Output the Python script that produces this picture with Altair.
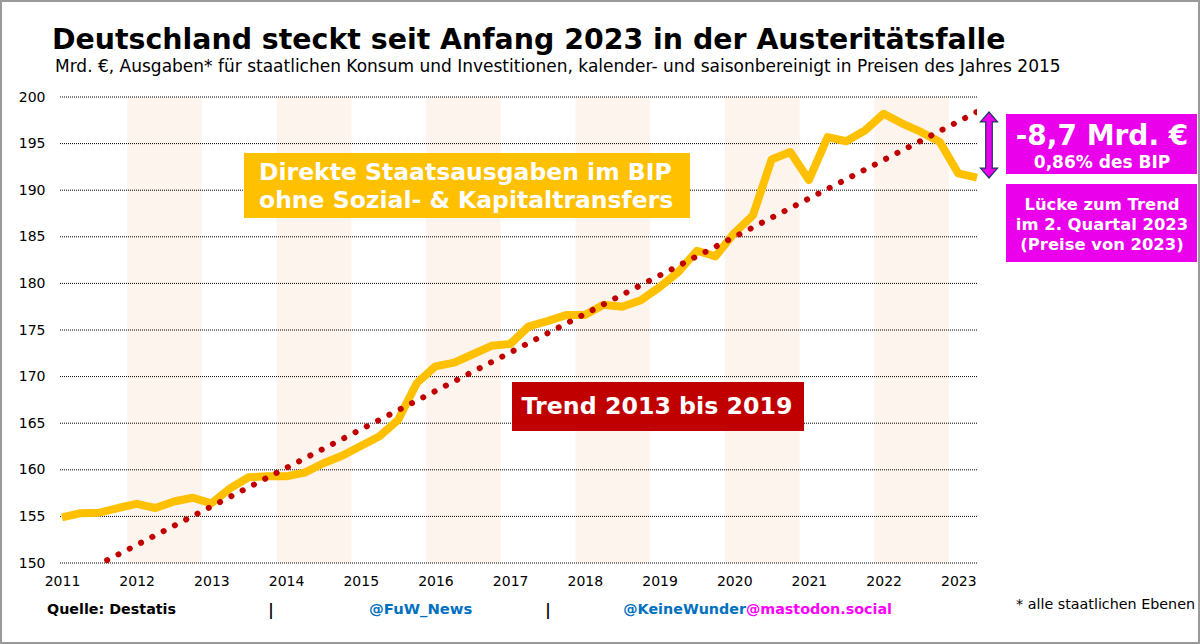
import altair as alt
import pandas as pd

# ---------------- data ----------------
quarters = [f"{y}-Q{q}" for y in range(2011, 2024) for q in range(1, 5)][:50]
staatsausgaben = [
    154.9, 155.35, 155.4, 155.9, 156.35, 155.9, 156.6, 157.0,
    156.4, 158.0, 159.2, 159.3, 159.3, 159.7, 160.7, 161.5,
    162.55, 163.6, 165.35, 169.3, 171.1, 171.5, 172.4, 173.3,
    173.5, 175.4, 175.95, 176.6, 176.6, 177.7, 177.5, 178.2,
    179.6, 181.2, 183.5, 182.9, 185.4, 187.3, 193.3, 194.1,
    191.1, 195.7, 195.25, 196.4, 198.2, 197.15, 196.25, 195.2,
    191.8, 191.35,
]
trend_quarters = ["2011-Q1", "2023-Q2"]
trend_values = [147.8, 198.4]
band_years = [2012, 2014, 2016, 2018, 2020, 2022]
y_ticks = [150, 155, 160, 165, 170, 175, 180, 185, 190, 195, 200]
x_ticks = list(range(2011, 2024))


def qpos(label):
    y, q = label.split("-Q")
    return int(y) + (int(q) - 1) / 4


df = pd.DataFrame({"quarter": quarters, "value": staatsausgaben})
df["t"] = df["quarter"].map(qpos)
trend = pd.DataFrame({"quarter": trend_quarters, "value": trend_values})
trend["t"] = trend["quarter"].map(qpos)
bands = pd.DataFrame({"year": band_years})
bands["start"] = bands["year"] - 0.125
bands["end"] = bands["year"] + 0.875
grid = pd.DataFrame({"v": y_ticks})

W, H = 918, 466
FONT = "DejaVu Sans"
xscale = alt.Scale(domain=[2010.96, 2023.25], nice=False, zero=False)
yscale = alt.Scale(domain=[150, 200], nice=False, zero=False)

one = alt.Data(values=[{"a": 0}])


def txt(s, x, y, size, color="black", weight="normal", align="left",
        baseline="alphabetic"):
    return alt.Chart(one).mark_text(
        text=s, font=FONT, fontSize=size, fontWeight=weight, color=color,
        align=align, baseline=baseline,
    ).encode(x=alt.value(x), y=alt.value(y))


def box(x1, x2, y1, y2, color):
    return alt.Chart(one).mark_rect(color=color).encode(
        x=alt.value(x1), x2=alt.value(x2), y=alt.value(y1), y2=alt.value(y2)
    )


xaxis = alt.Axis(values=x_ticks, format="d", grid=False, ticks=False,
                 domain=False, labelFont=FONT, labelFontSize=14,
                 labelColor="black", labelPadding=11)
yaxis = alt.Axis(values=y_ticks, grid=False, ticks=False, domain=False,
                 labelFont=FONT, labelFontSize=14, labelColor="black",
                 labelPadding=14)

band_layer = alt.Chart(bands).mark_rect(color="#FEF4EE").encode(
    x=alt.X("start:Q", scale=xscale, title=None, axis=xaxis), x2="end:Q"
)

grid_layer = alt.Chart(grid).mark_rule(
    color="#000000", strokeWidth=1, strokeDash=[1, 1]
).encode(y=alt.Y("v:Q", scale=yscale, title=None, axis=yaxis))

line_layer = alt.Chart(df).mark_line(
    color="#FFC000", strokeWidth=8, strokeJoin="round"
).encode(
    x=alt.X("t:Q", scale=xscale, title=None, axis=xaxis),
    y=alt.Y("value:Q", scale=yscale, title=None, axis=yaxis),
)

trend_layer = alt.Chart(trend).mark_line(
    color="#C00000", strokeWidth=6, strokeDash=[0.1, 12.6], strokeCap="round",
    clip=True,
).encode(
    x=alt.X("t:Q", scale=xscale, title=None, axis=xaxis),
    y=alt.Y("value:Q", scale=yscale, title=None, axis=yaxis),
)

arrow_path = ("M0,-1L0.26,-0.7L0.1,-0.7L0.1,0.7L0.26,0.7L0,1L-0.26,0.7"
              "L-0.1,0.7L-0.1,-0.7L-0.26,-0.7Z")
MAG = "#EA00EA"
arrow = alt.Chart(one).mark_point(
    shape=arrow_path, size=4356, filled=True, fill=MAG,
    stroke="#1F3864", strokeWidth=1.2, opacity=1,
).encode(x=alt.value(930), y=alt.value(48))

FS = 14.3
layers = [
    band_layer, grid_layer, line_layer, trend_layer,
    # yellow label
    box(185, 631, 56, 121, "#FFC000"),
    txt("Direkte Staatsausgaben im BIP", 200, 83, 23.5, "white", "bold"),
    txt("ohne Sozial- & Kapitaltransfers", 200, 111, 23.5, "white", "bold"),
    # red label
    box(453, 745, 285, 334, "#C00000"),
    txt("Trend 2013 bis 2019", 598, 317, 23.7, "white", "bold", "center"),
    # magenta boxes
    box(947, 1138, 17, 77, MAG),
    txt("-8,7 Mrd. €", 1043, 48, 28, "white", "bold", "center"),
    txt("0,86% des BIP", 1043, 70.5, 17, "white", "bold", "center"),
    box(947, 1138, 87, 165, MAG),
    txt("Lücke zum Trend", 1043, 113, 16.4, "white", "bold", "center"),
    txt("im 2. Quartal 2023", 1043, 133, 16.4, "white", "bold", "center"),
    txt("(Preise von 2023)", 1043, 153, 16.4, "white", "bold", "center"),
    arrow,
    # title
    txt("Deutschland steckt seit Anfang 2023 in der Austeritätsfalle",
        -7, -47.7, 28.4, "black", "bold"),
    txt("Mrd. €, Ausgaben* für staatlichen Konsum und Investitionen, "
        "kalender- und saisonbereinigt in Preisen des Jahres 2015",
        -4, -25.3, 17, "black"),
    # footer
    txt("Quelle: Destatis", -12, 513, FS, "black", "bold", "left", "middle"),
    txt("|", 212, 513, 15, "black", "bold", "center", "middle"),
    txt("@FuW_News", 310, 513, 14.8, "#0070C0", "bold", "left", "middle"),
    txt("|", 489, 513, 15, "black", "bold", "center", "middle"),
    txt("@KeineWunder", 687, 513, FS, "#0070C0", "bold", "right", "middle"),
    txt("@mastodon.social", 687, 513, FS, "#FF00FF", "bold", "left", "middle"),
    txt("* alle staatlichen Ebenen", 1136, 508, 14.3, "black", "normal", "right",
        "middle"),
    # outer frame
    alt.Chart(one).mark_rect(fillOpacity=0, stroke="#9A9A9A", strokeWidth=2).encode(
        x=alt.value(-58), x2=alt.value(1140), y=alt.value(-96), y2=alt.value(546)
    ),
]

chart = alt.layer(*layers).properties(
    width=W, height=H,
    autosize=alt.AutoSizeParams(type="none"),
    padding={"left": 59, "top": 97, "right": 223, "bottom": 81},
    background="white",
).configure_view(strokeWidth=0)

chart.save("out.html", embed_options={"renderer": "svg", "actions": False})
